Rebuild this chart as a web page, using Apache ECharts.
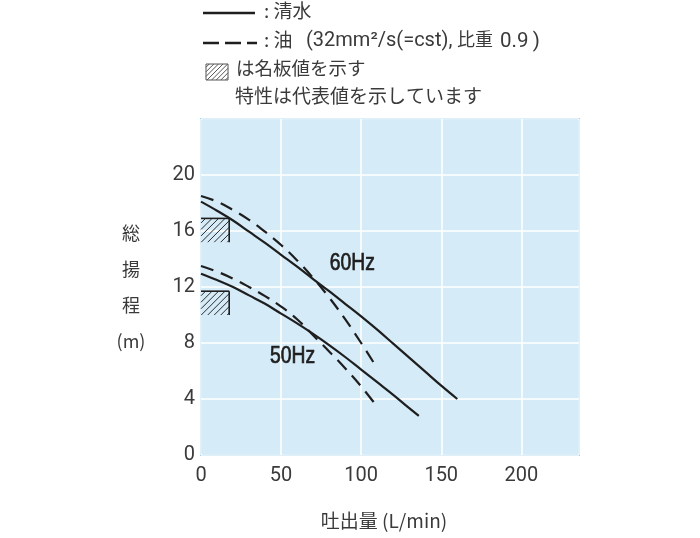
<!DOCTYPE html>
<html>
<head>
<meta charset="utf-8">
<script src="https://cdn.jsdelivr.net/npm/echarts@6/dist/echarts.min.js"></script>
<style>
html,body{margin:0;padding:0;background:#fff;}
#c{width:700px;height:538px;}
</style>
</head>
<body>
<div id="c"></div>
<script>
// ---- data ----
const flow60Water = [0,10,20,30,40,50,60,70,80,90,100,110,120,130,140,150,160];
const head60Water = [18.1,17.45,16.75,15.95,15.15,14.3,13.45,12.57,11.7,10.8,9.9,8.95,7.95,6.95,5.95,4.95,4.0];
const flow60Oil = [0,10,20,30,40,50,60,70,80,90,100,110];
const head60Oil = [18.5,18.1,17.5,16.8,15.95,15.0,13.9,12.65,11.25,9.7,8.0,6.2];
const flow50Water = [0,10,20,30,40,50,60,70,80,90,100,110,120,130,136];
const head50Water = [12.95,12.5,12.0,11.4,10.8,10.1,9.4,8.65,7.85,7.0,6.1,5.2,4.3,3.35,2.8];
const flow50Oil = [0,10,20,30,40,50,60,70,80,90,100,110];
const head50Oil = [13.5,13.1,12.6,12.0,11.35,10.6,9.7,8.55,7.4,6.2,4.9,3.45];
// nameplate boxes: [flowMin, headMin, flowMax, headMax]
const plateBoxes = [[0,15.2,17.6,16.9],[0,10.0,17.6,11.7]];
const freqNames = ['60Hz','50Hz'];
const freqLabelFlow = [94.5,57.2];
const freqLabelHead = [13.7,7.0];
const xTickLabels = ['0','50','100','150','200'];
const yTickLabels = ['0','4','8','12','16','20'];

const pairs = (xs, ys) => xs.map((x,i)=>[x,ys[i]]);
const INK = '#1e1e1e';
const TXT = '#3a3a3a';
const FONT = "'Noto Sans CJK JP','Noto Sans',sans-serif";
const NUMFONT = "Roboto,'Noto Sans',sans-serif";

function hatchLines(x0,y0,x1,y1,s,color,w){
  const ch=[];
  for(let c=x0+y0+s*0.7; c<x1+y1; c+=s){
    const ya=Math.max(y0, c-x1), yb=Math.min(y1, c-x0);
    if(yb-ya<0.5) continue;
    ch.push({type:'line',shape:{x1:c-ya,y1:ya,x2:c-yb,y2:yb},style:{stroke:color,lineWidth:w}});
  }
  return ch;
}
function hatchRender(params, api){
  const p0 = api.coord([api.value(0), api.value(3)]);
  const p1 = api.coord([api.value(2), api.value(1)]);
  const x0=p0[0], y0=p0[1], x1=p1[0], y1=p1[1];
  const children=hatchLines(x0,y0,x1,y1,6.5,'#2a2a2a',1.0);
  children.push({type:'line',shape:{x1:x0,y1:y0,x2:x1,y2:y0},style:{stroke:INK,lineWidth:1.6}});
  children.push({type:'line',shape:{x1:x1,y1:y0,x2:x1,y2:y1},style:{stroke:INK,lineWidth:1.6}});
  return {type:'group',children};
}
function freqRender(params, api){
  const p = api.coord([api.value(0), api.value(1)]);
  return {type:'text',x:p[0],y:p[1],scaleX:0.84,
    style:{text:freqNames[params.dataIndex],fill:INK,stroke:INK,lineWidth:0.7,
      font:"23px 'Liberation Sans',Arimo,sans-serif",align:'center',verticalAlign:'middle'}};
}

const chart = echarts.init(document.getElementById('c'), null, {renderer:'canvas'});
chart.setOption({
  animation:false,
  backgroundColor:'#ffffff',
  grid:{left:201,top:119,width:378,height:336,show:true,backgroundColor:'#d5ebf8',borderColor:'#55b1de',borderWidth:1.5,z:0},
  xAxis:{
    type:'value',min:0,max:236,interval:50,
    axisLine:{show:false},axisTick:{show:false},
    splitLine:{show:true,lineStyle:{color:'#ffffff',width:1.5}},
    axisLabel:{color:TXT,fontFamily:NUMFONT,fontSize:20,margin:11,showMaxLabel:false,
      formatter:v=>{const i=v/50; return Number.isInteger(i)&&i<xTickLabels.length?xTickLabels[i]:'';}},
    name:'吐出量 (L/min)',nameLocation:'middle',nameGap:56,
    nameTextStyle:{color:TXT,fontFamily:FONT,fontSize:19,padding:[0,12,0,0]}
  },
  yAxis:{
    type:'value',min:0,max:24,interval:4,
    axisLine:{show:false},axisTick:{show:false},
    splitLine:{show:true,lineStyle:{color:'#ffffff',width:1.5}},
    axisLabel:{color:TXT,fontFamily:NUMFONT,fontSize:20,margin:6,showMaxLabel:false,
      formatter:v=>{const i=v/4; return Number.isInteger(i)&&i<yTickLabels.length?yTickLabels[i]:'';}},
    name:'総\n揚\n程\n(m)',nameLocation:'middle',nameGap:70,nameRotate:0,
    nameTextStyle:{color:TXT,fontFamily:FONT,fontSize:18,lineHeight:36,align:'center',verticalAlign:'middle'}
  },
  series:[
    {type:'custom',renderItem:hatchRender,data:plateBoxes,z:3,silent:true},
    {type:'line',data:pairs(flow60Water,head60Water),smooth:0.4,showSymbol:false,lineStyle:{color:INK,width:2.2},z:4},
    {type:'line',data:pairs(flow60Oil,head60Oil),smooth:0.4,showSymbol:false,lineStyle:{color:INK,width:2.2,type:[13,8]},z:4},
    {type:'line',data:pairs(flow50Water,head50Water),smooth:0.4,showSymbol:false,lineStyle:{color:INK,width:2.2},z:4},
    {type:'line',data:pairs(flow50Oil,head50Oil),smooth:0.4,showSymbol:false,lineStyle:{color:INK,width:2.2,type:[13,8]},z:4},
    {type:'custom',renderItem:freqRender,z:5,silent:true,
     data:freqNames.map((n,i)=>[freqLabelFlow[i],freqLabelHead[i]])}
  ],
  graphic:[
    {type:'line',shape:{x1:203,y1:13,x2:255,y2:13},style:{stroke:INK,lineWidth:2.4}},
    {type:'text',left:264,top:1,style:{text:': 清水',fill:TXT,font:"19px "+FONT}},
    {type:'line',shape:{x1:203,y1:43,x2:257,y2:43},style:{stroke:INK,lineWidth:2.6,lineDash:[16,6]}},
    {type:'text',left:264,top:30,style:{text:': 油',fill:TXT,font:"19px "+FONT}},
    {type:'text',left:306,top:31,style:{text:'(32mm²/s(=cst),',fill:TXT,font:"20px "+NUMFONT}},
    {type:'text',left:457,top:30,style:{text:'比重',fill:TXT,font:"18px "+FONT}},
    {type:'text',left:500,top:31,style:{text:'0.9\u2009)',fill:TXT,font:"20.5px "+NUMFONT}},
    {type:'group',children:(function(){
      const ch=hatchLines(206,64,228,80,4.6,'#555',1);
      ch.push({type:'rect',shape:{x:206,y:64,width:22,height:16},style:{fill:'none',stroke:'#555',lineWidth:1}});
      return ch;})()},
    {type:'text',left:236,top:59,style:{text:'は名板値を示す',fill:TXT,font:"18.5px "+FONT}},
    {type:'text',left:235,top:86,style:{text:'特性は代表値を示しています',fill:TXT,font:"19px "+FONT}}
  ]
});
</script>
</body>
</html>
